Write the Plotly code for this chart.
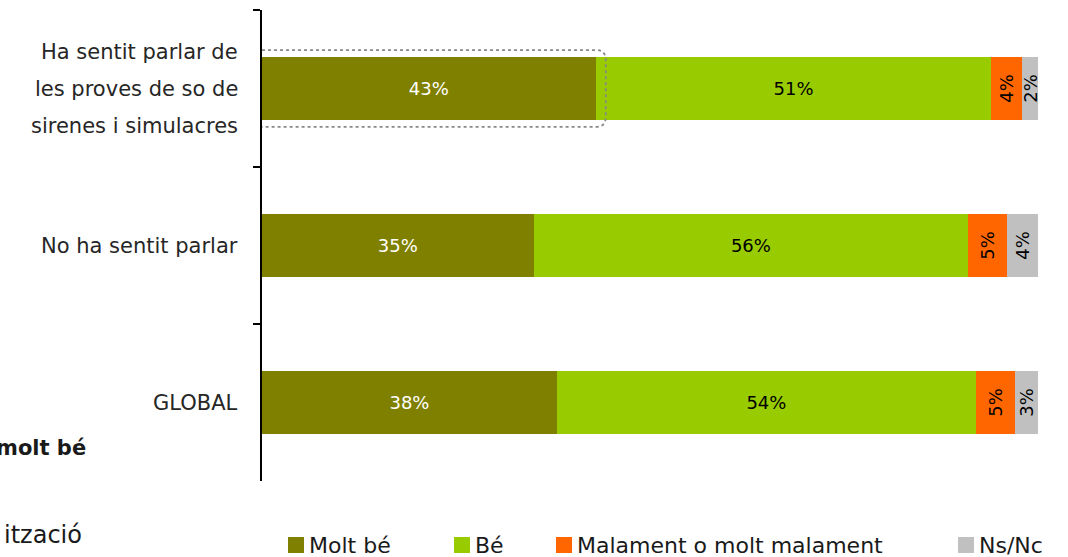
import plotly.graph_objects as go

# data
categories = ["Ha sentit parlar de<br>les proves de so de<br>sirenes i simulacres",
              "No ha sentit parlar",
              "GLOBAL"]
series = ["Molt bé", "Bé", "Malament o molt malament", "Ns/Nc"]
molt_be = [43, 35, 38]
be = [51, 56, 54]
malament = [4, 5, 5]
nsnc = [2, 4, 3]

colors = ["#808000", "#99CC00", "#FF6600", "#C0C0C0"]
text_colors = ["white", "black", "black", "black"]
angles = [0, 0, -90, -90]
FONT = "DejaVu Sans"

W, H = 1068, 557
ML, MR, MT, MB = 262, 30, 10, 76

def px(x):  # pixel -> paper x
    return (x - ML) / (W - ML - MR)

def py(y):  # pixel -> paper y
    return (H - MB - y) / (H - MT - MB)

fig = go.Figure()
for name, vals, c, tc, ang in zip(series, [molt_be, be, malament, nsnc], colors, text_colors, angles):
    fig.add_trace(go.Bar(
        y=categories, x=vals, name=name, orientation="h",
        marker=dict(color=c, line=dict(width=0)),
        text=[f"{v}%" for v in vals], textposition="inside",
        insidetextanchor="middle", textangle=ang, constraintext="none",
        textfont=dict(family=FONT, size=18, color=tc),
        cliponaxis=False, showlegend=False))

fig.update_layout(
    barmode="stack", bargap=0.6,
    width=W, height=H, margin=dict(l=ML, r=MR, t=MT, b=MB),
    plot_bgcolor="white", paper_bgcolor="white",
    font=dict(family=FONT, color="#262626"),
)
fig.update_xaxes(range=[0, 100], visible=False)
fig.update_yaxes(categoryorder="array", categoryarray=categories, autorange="reversed",
                 showline=True, linecolor="black", linewidth=2,
                 ticks="outside", tickson="boundaries", ticklen=7, tickwidth=2, tickcolor="black",
                 showgrid=False, showticklabels=False)

# category labels, one annotation per line for the wide line spacing
for cat in categories:
    lines = cat.split("<br>")
    n = len(lines)
    for j, line in enumerate(lines):
        fig.add_annotation(x=px(240), xref="paper", y=cat, yref="y", text=line,
                           xanchor="right", showarrow=False, yshift=((n - 1) / 2 - j) * 37,
                           font=dict(family=FONT, size=21, color="#262626"))

# dotted highlight around first segment
x0, x1 = -1.3, molt_be[0] + 1.3
y0, y1 = -0.245, 0.245
rx, ry = 1.3, 0.065
path = (f"M {x0+rx},{y0} L {x1-rx},{y0} Q {x1},{y0} {x1},{y0+ry} "
        f"L {x1},{y1-ry} Q {x1},{y1} {x1-rx},{y1} L {x0+rx},{y1} "
        f"Q {x0},{y1} {x0},{y1-ry} L {x0},{y0+ry} Q {x0},{y0} {x0+rx},{y0} Z")
fig.add_shape(type="path", path=path, xref="x", yref="y",
              line=dict(color="#888888", width=1.8, dash="dot"))

# legend drawn by hand
leg_x = [288, 454, 556, 958]
for name, c, lx in zip(series, colors, leg_x):
    fig.add_shape(type="rect", xref="paper", yref="paper",
                  x0=px(lx), x1=px(lx + 16), y0=py(553), y1=py(537),
                  fillcolor=c, line=dict(width=0))
    fig.add_annotation(x=px(lx + 19), y=py(545), xref="paper", yref="paper",
                       text=name, xanchor="left", yanchor="middle", showarrow=False,
                       font=dict(family=FONT, size=22, color="#1a1a1a"))

# fragments of slide text behind the chart
fig.add_annotation(x=px(88), y=py(448), xref="paper", yref="paper", text="<b>molt bé</b>",
                   xanchor="right", yanchor="middle", showarrow=False,
                   font=dict(family=FONT, size=21, color="#1a1a1a"))
fig.add_annotation(x=px(2), y=py(535), xref="paper", yref="paper", text="ització",
                   xanchor="left", yanchor="middle", showarrow=False,
                   font=dict(family=FONT, size=24, color="#1a1a1a"))

fig.write_html("out.html", config={"displayModeBar": False},
               post_script="document.body.style.margin='0';document.body.style.overflow='hidden';")
